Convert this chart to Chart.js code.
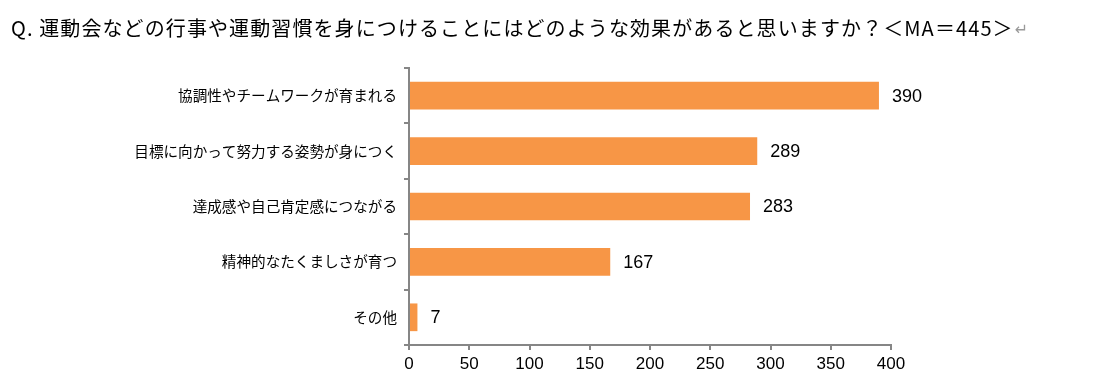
<!DOCTYPE html>
<html><head><meta charset="utf-8">
<script src="https://cdn.jsdelivr.net/npm/chart.js@4/dist/chart.umd.min.js"></script>
<style>html,body{margin:0;padding:0;background:#fff}#wrap{position:relative;width:1096px;height:385px}</style>
</head><body><div id="wrap"><canvas id="c" width="1096" height="385"></canvas></div>
<script>
const titleText = "Q. 運動会などの行事や運動習慣を身につけることにはどのような効果があると思いますか？＜MA＝445＞";
const titleMark = "↵";
const categories = ["協調性やチームワークが育まれる","目標に向かって努力する姿勢が身につく","達成感や自己肯定感につながる","精神的なたくましさが育つ","その他"];
const values = [390, 289, 283, 167, 7];
const xTicks = [0, 50, 100, 150, 200, 250, 300, 350, 400];

const titlePlugin = {
  id: 'titleDraw',
  afterDraw(chart) {
    const ctx = chart.ctx;
    ctx.save();
    ctx.font = '20px "Noto Sans CJK JP", sans-serif';
    ctx.textBaseline = 'middle';
    ctx.textAlign = 'left';
    ctx.fillStyle = '#000';
    ctx.letterSpacing = '1.1px';
    ctx.fillText(titleText, 11, 28);
    const w = ctx.measureText(titleText).width;
    ctx.letterSpacing = '0px';
    ctx.fillStyle = '#9a9a9a';
    ctx.font = '16px "DejaVu Sans", sans-serif';
    ctx.fillText(titleMark, 11 + w + 1, 31);
    ctx.restore();
  }
};
const valuePlugin = {
  id: 'valueLabels',
  afterDatasetsDraw(chart) {
    const ctx = chart.ctx;
    const meta = chart.getDatasetMeta(0);
    ctx.save();
    ctx.font = '18px "Liberation Sans", Arial, sans-serif';
    ctx.fillStyle = '#000';
    ctx.textBaseline = 'middle';
    ctx.textAlign = 'left';
    meta.data.forEach((bar, i) => {
      ctx.fillText(String(values[i]), bar.x + 13, bar.y + 1);
    });
    ctx.restore();
  }
};

new Chart(document.getElementById('c'), {
  type: 'bar',
  data: {
    labels: categories,
    datasets: [{ data: values, backgroundColor: '#F79646', borderWidth: 0, barPercentage: 0.5, categoryPercentage: 1.0 }]
  },
  options: {
    indexAxis: 'y',
    responsive: false,
    animation: false,
    devicePixelRatio: 1,
    layout: { padding: { top: 68, right: 205, bottom: 0, left: 0 } },
    plugins: { legend: { display: false }, tooltip: { enabled: false }, title: { display: false } },
    scales: {
      x: {
        min: 0, max: 400,
        afterBuildTicks(scale) { scale.ticks = xTicks.map(v => ({ value: v })); },
        afterFit(scale) { scale.height = 40; },
        grid: { drawOnChartArea: false, drawTicks: true, tickLength: 5, color: '#868686', lineWidth: 2 },
        border: { display: true, color: '#868686', width: 2 },
        ticks: { color: '#000', font: { family: '"Liberation Sans", Arial, sans-serif', size: 17 }, padding: 4, maxRotation: 0 }
      },
      y: {
        afterFit(scale) { scale.width = 409; },
        grid: { drawOnChartArea: false, drawTicks: true, tickLength: 5, color: '#868686', lineWidth: 2, offset: true },
        border: { display: true, color: '#868686', width: 2 },
        ticks: { color: '#000', font: { family: '"Noto Sans CJK JP", sans-serif', size: 14.6 }, padding: 7 }
      }
    }
  },
  plugins: [titlePlugin, valuePlugin]
});
</script></body></html>
